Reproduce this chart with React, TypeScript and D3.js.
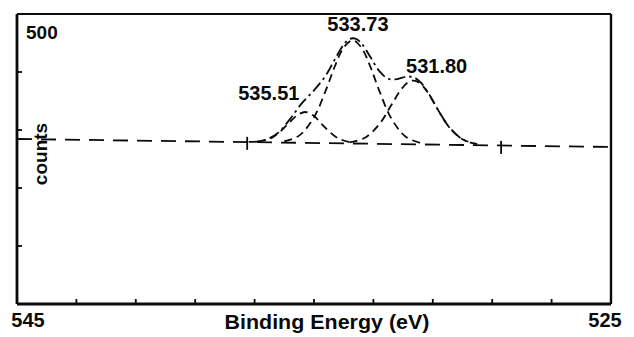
import React from "react";
import * as d3 from "d3";

// Axis
const xDomain: [number, number] = [545, 525];
const yDomain: [number, number] = [0, 500];
const xTickValues = [543, 541, 539, 537, 535, 533, 531, 529, 527];
const yTickValues = [100, 200, 300, 400];
const xEndLabels = ["545", "525"];
const yTopLabel = "500";

// Background (linear) line
const baselineE = [545, 525];
const baselineC = [284.5, 270.7];

// Component 535.51
const compAE = [536.9, 536.4, 535.9, 535.6, 535.3, 535.0, 534.7, 534.2, 533.7];
const compAC = [280, 287, 309, 324, 331, 324, 308, 286, 278];

// Component 533.73
const compBE = [536.0, 535.5, 535.0, 534.6, 534.3, 534.0, 533.7, 533.4, 533.1, 532.8, 532.4, 531.9, 531.4];
const compBC = [280.6, 290.3, 322.0, 368.8, 409.5, 442.2, 454.7, 441.8, 408.7, 367.6, 320.2, 287.9, 277.4];

// Component 531.80
const compCE = [533.8, 533.3, 532.8, 532.4, 532.1, 531.85, 531.65, 531.45, 531.2, 530.9, 530.5, 530.0, 529.5];
const compCC = [278.6, 286.2, 310.0, 342.5, 367.5, 381.6, 385.3, 381.4, 366.9, 341.5, 308.4, 284.0, 275.6];

// Envelope (sum)
const envE = [537.2, 536.7, 536.2, 535.8, 535.4, 535.0, 534.6, 534.3, 534.0, 533.8, 533.6, 533.4, 533.1, 532.8, 532.5, 532.2, 531.9, 531.65, 531.4, 531.1, 530.8, 530.4, 530.0, 529.6];
const envC = [279.4, 281.8, 295.4, 319.4, 346.7, 368.4, 394.4, 421.7, 447.3, 457.0, 457.5, 449.3, 425.7, 401.5, 388.3, 387.8, 392.0, 390.9, 381.5, 359.7, 332.6, 301.8, 284.0, 276.5];

// Region markers on the background
const markerE = [537.25, 528.7];
const markerC = [283, 276];

// Peak labels
const peakLabels = ["535.51", "533.73", "531.80"];
const peakLabelE = [537.55, 534.55, 531.9];
const peakLabelC = [352, 470, 398];

const xLabel = "Binding Energy (eV)";
const yLabel = "counts";

const W = 634;
const H = 337;
const L = 17, R = 611, T = 14, B = 304;

export default function App() {
  const x = d3.scaleLinear().domain(xDomain).range([L, R]);
  const y = d3.scaleLinear().domain(yDomain).range([B, T]);
  const line = d3
    .line<[number, number]>()
    .x((d) => x(d[0]))
    .y((d) => y(d[1]))
    .curve(d3.curveCatmullRom.alpha(0.5));
  const zip = (a: number[], b: number[]) => a.map((v, i) => [v, b[i]] as [number, number]);
  const font = "'Liberation Sans', Arial, Helvetica, sans-serif";
  const ink = "#0a0a0a";

  return (
    <div style={{ position: "absolute", left: 0, top: 0 }}>
      <svg width={W} height={H} style={{ display: "block", background: "#fff" }}>
        {/* baseline */}
        <path
          d={d3.line<[number, number]>().x((d) => x(d[0])).y((d) => y(d[1]))(zip(baselineE, baselineC)) || ""}
          fill="none"
          stroke={ink}
          strokeWidth={1.8}
          strokeDasharray="15,9"
        />
        {/* components */}
        {[zip(compAE, compAC), zip(compBE, compBC), zip(compCE, compCC)].map((pts, i) => (
          <path key={i} d={line(pts) || ""} fill="none" stroke={ink} strokeWidth={1.8} strokeDasharray="8,5" />
        ))}
        {/* envelope */}
        <path d={line(zip(envE, envC)) || ""} fill="none" stroke={ink} strokeWidth={1.8} strokeDasharray="11,4,2.5,4" />
        {/* markers */}
        {markerE.map((e, i) => (
          <line key={i} x1={x(e)} x2={x(e)} y1={y(markerC[i]) - 3} y2={y(markerC[i]) + 10} stroke={ink} strokeWidth={1.8} />
        ))}
        {/* frame */}
        <line x1={L} x2={R} y1={T} y2={T} stroke={ink} strokeWidth={2} />
        <line x1={R} x2={R} y1={T} y2={B} stroke={ink} strokeWidth={2.4} />
        <line x1={L} x2={L} y1={T} y2={B} stroke={ink} strokeWidth={2.8} />
        <line x1={L} x2={R} y1={B} y2={B} stroke={ink} strokeWidth={2.8} />
        {/* ticks */}
        {xTickValues.map((v) => (
          <line key={v} x1={x(v)} x2={x(v)} y1={B} y2={B - 5} stroke={ink} strokeWidth={1.8} />
        ))}
        {yTickValues.map((v) => (
          <line key={v} x1={L} x2={L + 5} y1={y(v)} y2={y(v)} stroke={ink} strokeWidth={1.8} />
        ))}
        {/* labels */}
        <text x={26} y={39} fontFamily={font} fontWeight="bold" fontSize={19} fill={ink}>
          {yTopLabel}
        </text>
        <text x={x(xDomain[0]) + 11} y={327} textAnchor="middle" fontFamily={font} fontWeight="bold" fontSize={20} fill={ink}>
          {xEndLabels[0]}
        </text>
        <text x={x(xDomain[1]) - 6} y={327} textAnchor="middle" fontFamily={font} fontWeight="bold" fontSize={20} fill={ink}>
          {xEndLabels[1]}
        </text>
        <text x={327} y={329} textAnchor="middle" fontFamily={font} fontWeight="bold" fontSize={19.5} fill={ink} textLength={205} lengthAdjust="spacingAndGlyphs">
          {xLabel}
        </text>
        <text
          transform={`translate(47,154) rotate(-90)`}
          textAnchor="middle"
          fontFamily={font}
          fontWeight="bold"
          fontSize={19}
          fill={ink}
        >
          {yLabel}
        </text>
        {peakLabels.map((t, i) => (
          <text key={t} x={x(peakLabelE[i])} y={y(peakLabelC[i])} fontFamily={font} fontWeight="bold" fontSize={20} fill={ink}>
            {t}
          </text>
        ))}
      </svg>
    </div>
  );
}
